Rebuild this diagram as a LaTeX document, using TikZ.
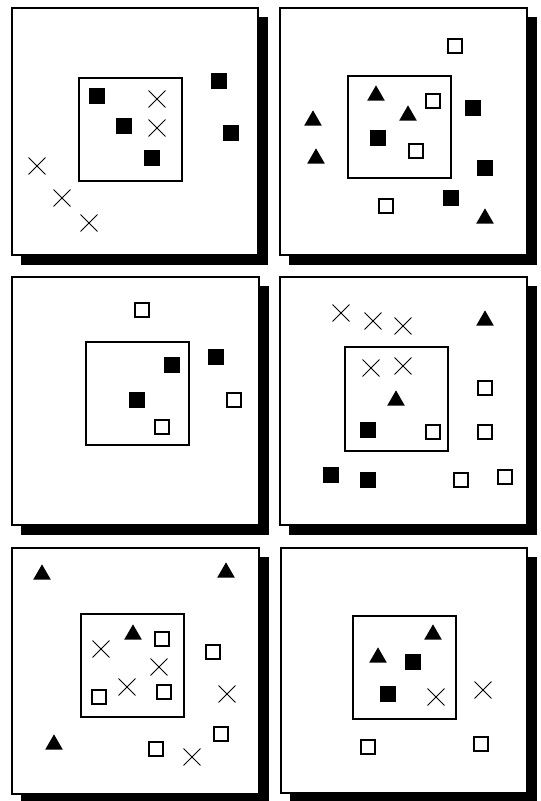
\documentclass[tikz,border=0pt]{standalone}
\usetikzlibrary{shapes.geometric, shapes.misc}

\begin{document}
\begin{tikzpicture}[x=1pt, y=-1pt,
    shadowbox/.style={fill=black},
    framebox/.style={draw, line width=1.6pt, fill=white},
    innerbox/.style={draw, line width=1.4pt},
    fsq/.style={fill=black, minimum size=16.5pt, inner sep=0pt},
    osq/.style={draw, line width=1.6pt, minimum size=14.5pt, inner sep=0pt},
    cross/.style={cross out, draw, line width=0.9pt, minimum size=16pt, inner sep=0pt},
    tri/.style={regular polygon, regular polygon sides=3, fill=black,
        minimum size=20.5pt, inner sep=0pt, yshift=-2.6pt}]
    \clip (0,0) rectangle (541,801);
    \fill[white] (0,0) rectangle (541,801);

    % panels: shadow, frame, inner window
    \foreach \xa/\ya/\xb/\yb/\xc/\yc/\xd/\yd in {
        12/8/258/255/79/78/182/181,
        280/8/527/255/348/76/451/178,
        12/277/259/525/86/342/189/445,
        280/277/527/525/345/347/448/451,
        12/548/259/794/81/614/184/717,
        281/548/527/793/353/616/456/719}
    {
        \fill[shadowbox] (\xa+9,\ya+9) rectangle (\xb+10,\yb+10);
        \draw[framebox] (\xa,\ya) rectangle (\xb,\yb);
        \draw[innerbox] (\xc,\yc) rectangle (\xd,\yd);
    }

    % panel 1
    \foreach \x/\y [count=\k] in {97/96, 124/126, 152/158, 219/81, 231/133}
        \node[fsq] (p1-f\k) at (\x,\y) {};
    \foreach \x/\y [count=\k] in {157/99, 157/128, 37/166, 62/198, 89/223}
        \node[cross] (p1-x\k) at (\x,\y) {};

    % panel 2
    \foreach \x/\y [count=\k] in {473/108, 378/138, 485/168, 451/198}
        \node[fsq] (p2-f\k) at (\x,\y) {};
    \foreach \x/\y [count=\k] in {455/46, 433/101, 416/151, 386/206}
        \node[osq] (p2-o\k) at (\x,\y) {};
    \foreach \x/\y [count=\k] in {376/93, 408/113, 313/118, 316/156, 485/216}
        \node[tri] (p2-t\k) at (\x,\y) {};

    % panel 3
    \foreach \x/\y [count=\k] in {172/365, 216/357, 137/400}
        \node[fsq] (p3-f\k) at (\x,\y) {};
    \foreach \x/\y [count=\k] in {142/310, 234/400, 162/427}
        \node[osq] (p3-o\k) at (\x,\y) {};

    % panel 4
    \foreach \x/\y [count=\k] in {368/430, 331/475, 368/480}
        \node[fsq] (p4-f\k) at (\x,\y) {};
    \foreach \x/\y [count=\k] in {485/388, 433/432, 485/432, 461/480, 505/477}
        \node[osq] (p4-o\k) at (\x,\y) {};
    \foreach \x/\y [count=\k] in {341/313, 373/321, 403/326, 371/368, 403/366}
        \node[cross] (p4-x\k) at (\x,\y) {};
    \foreach \x/\y [count=\k] in {485/318, 396/398}
        \node[tri] (p4-t\k) at (\x,\y) {};

    % panel 5
    \foreach \x/\y [count=\k] in {162/639, 213/652, 99/697, 164/692, 221/734, 156/749}
        \node[osq] (p5-o\k) at (\x,\y) {};
    \foreach \x/\y [count=\k] in {101/649, 159/667, 127/687, 227/694, 192/757}
        \node[cross] (p5-x\k) at (\x,\y) {};
    \foreach \x/\y [count=\k] in {42/572, 226/570, 133/632, 54/742}
        \node[tri] (p5-t\k) at (\x,\y) {};

    % panel 6
    \foreach \x/\y [count=\k] in {413/662, 388/694}
        \node[fsq] (p6-f\k) at (\x,\y) {};
    \foreach \x/\y [count=\k] in {368/747, 481/744}
        \node[osq] (p6-o\k) at (\x,\y) {};
    \foreach \x/\y [count=\k] in {436/697, 483/690}
        \node[cross] (p6-x\k) at (\x,\y) {};
    \foreach \x/\y [count=\k] in {433/632, 378/655}
        \node[tri] (p6-t\k) at (\x,\y) {};
\end{tikzpicture}
\end{document}
